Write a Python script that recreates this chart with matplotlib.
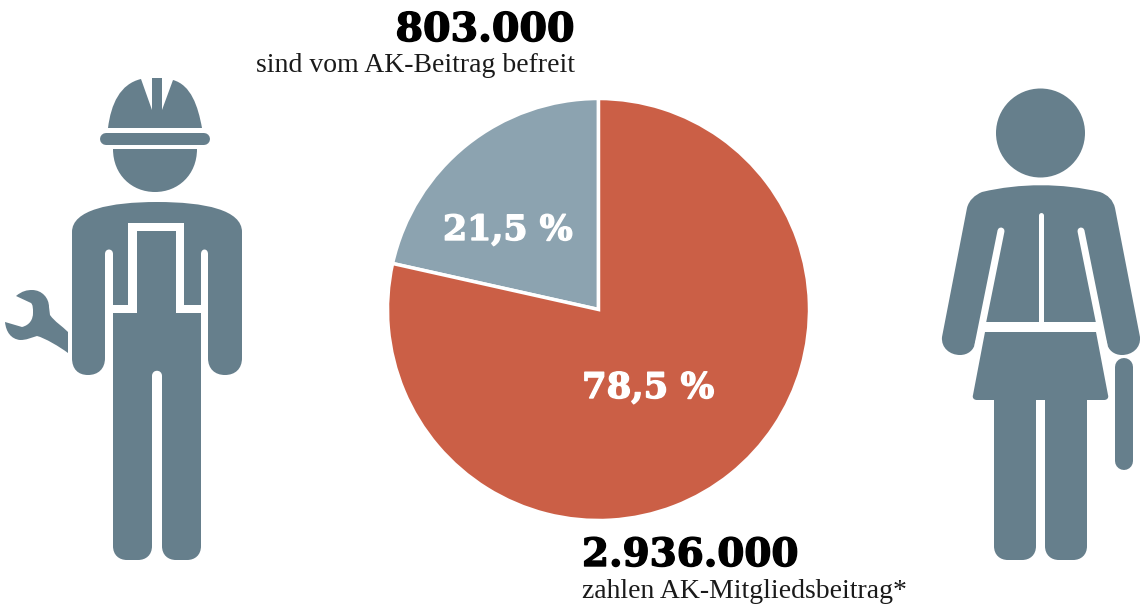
import matplotlib
matplotlib.use("Agg")
import matplotlib.pyplot as plt
import matplotlib.patheffects as pe
from matplotlib.patches import PathPatch, Circle, Polygon
from matplotlib.path import Path

W, H = 1140, 606

shares = [21.5, 78.5]
share_labels = ["21,5 %", "78,5 %"]
counts = ["803.000", "2.936.000"]
captions = ["sind vom AK-Beitrag befreit", "zahlen AK-Mitgliedsbeitrag*"]

ICON = "#667f8c"
PIE_COLORS = ["#8ca3b0", "#cb5f46"]
SERIF = ["Liberation Serif", "DejaVu Serif"]
BOLD = ["DejaVu Serif", "DejaVu Sans"]


def shape(*parts):
    # M/L/C/Z mini path: ("M", x, y), ("C", x1, y1, x2, y2, x, y) ...
    verts, codes = [], []
    for p in parts:
        if p[0] == "M":
            verts.append(p[1:3]); codes.append(Path.MOVETO)
        elif p[0] == "L":
            verts.append(p[1:3]); codes.append(Path.LINETO)
        elif p[0] == "C":
            verts += [p[1:3], p[3:5], p[5:7]]; codes += [Path.CURVE4] * 3
        else:
            verts.append((0, 0)); codes.append(Path.CLOSEPOLY)
    return Path(verts, codes)


def fill(ax, *parts):
    ax.add_patch(PathPatch(shape(*parts), fc=ICON, ec="none", zorder=2))


def bar(ax, x0, y0, x1, y1, w, color=ICON):
    # width is given in pixels, the figure runs at 100 dpi
    ax.plot([x0, x1], [y0, y1], color=color, lw=w * 0.72, solid_capstyle="round", zorder=3)


fig = plt.figure(figsize=(W / 100, H / 100), dpi=100, facecolor="white")

bg = fig.add_axes([0, 0, 1, 1])
bg.set_xlim(0, W)
bg.set_ylim(H, 0)
bg.axis("off")

# worker: helmet, brim, face
fill(bg, ("M", 108, 128), ("C", 111, 104, 120, 84, 141, 79), ("L", 152, 110), ("L", 152, 78),
     ("L", 162, 78), ("L", 162, 110), ("L", 173, 80), ("C", 191, 85, 198, 106, 202, 128), ("Z",))
bar(bg, 106, 139, 204, 139, 12)
fill(bg, ("M", 113, 149), ("L", 197, 149), ("C", 197, 175, 178, 192, 155, 192),
     ("C", 132, 192, 113, 175, 113, 149), ("Z",))

# worker: body with arms and legs in one outline
fill(bg, ("M", 72, 232), ("C", 72, 210, 110, 202, 157, 202), ("C", 205, 202, 242, 210, 242, 232),
     ("L", 242, 358), ("C", 242, 369, 235, 375, 225, 375), ("C", 215, 375, 208, 369, 208, 358),
     ("L", 208, 254), ("C", 208, 248, 201, 248, 201, 254),
     ("L", 201, 546), ("C", 201, 555, 195, 560, 187, 560), ("L", 176, 560),
     ("C", 168, 560, 162, 555, 162, 546), ("L", 162, 376), ("C", 162, 369, 152, 369, 152, 376),
     ("L", 152, 546), ("C", 152, 555, 146, 560, 138, 560), ("L", 127, 560),
     ("C", 119, 560, 113, 555, 113, 546), ("L", 113, 254), ("C", 113, 248, 105, 248, 105, 254),
     ("L", 105, 358), ("C", 105, 369, 98, 375, 88, 375), ("C", 78, 375, 72, 369, 72, 358), ("Z",))

# bib of the overalls
bg.add_patch(Polygon([(113, 305), (128, 305), (128, 223), (184, 223), (184, 305), (201, 305),
                      (201, 313), (176, 313), (176, 231), (137, 231), (137, 313), (113, 313)],
                     fc="white", ec="none", zorder=3))

# wrench
fill(bg, ("M", 16, 296), ("C", 22, 291, 27, 290, 32, 290), ("C", 42, 290, 49, 298, 49, 307),
     ("L", 50, 315), ("C", 55, 322, 62, 326, 68, 332), ("L", 68, 353),
     ("C", 60, 347, 45, 338, 37, 336), ("C", 30, 338, 27, 340, 20, 340),
     ("C", 11, 339, 6, 332, 5, 322), ("L", 22, 327), ("C", 30, 325, 33, 319, 33, 313),
     ("C", 33, 308, 33, 305, 31, 303), ("Z",))

# woman: head, torso with arms, skirt, legs
bg.add_patch(Circle((1040.5, 133), 44.5, fc=ICON, ec="none", zorder=2))
fill(bg, ("M", 982, 192), ("C", 1020, 183, 1062, 183, 1100, 192), ("C", 1108, 195, 1113, 200, 1115, 208),
     ("L", 1140, 337), ("C", 1141, 348, 1132, 355, 1122, 355), ("C", 1114, 355, 1108, 350, 1107, 343),
     ("L", 1100, 322), ("L", 982, 322), ("L", 975, 343), ("C", 974, 350, 968, 355, 960, 355),
     ("C", 950, 355, 941, 348, 942, 337), ("L", 967, 208), ("C", 969, 200, 975, 195, 982, 192), ("Z",))
fill(bg, ("M", 985, 332), ("L", 1096, 332), ("L", 1108, 395), ("C", 1109, 398, 1107, 400, 1104, 400),
     ("L", 977, 400), ("C", 974, 400, 972, 398, 973, 395), ("Z",))
for x0, x1 in [(994, 1036), (1045, 1087)]:
    fill(bg, ("M", x0, 398), ("L", x1, 398), ("L", x1, 546), ("C", x1, 555, x1 - 6, 560, x1 - 14, 560),
         ("L", x0 + 14, 560), ("C", x0 + 6, 560, x0, 555, x0, 546), ("Z",))

# slits in the dress
bar(bg, 1001, 231, 978, 345, 7, "white")
bar(bg, 1081, 231, 1104, 345, 7, "white")
bar(bg, 1040.5, 215, 1040.5, 324, 5, "white")

# thing she carries
bar(bg, 1124, 367, 1124, 461, 18)

# pie
ax = fig.add_axes([387.5 / W, (H - 520.5) / H, 422 / W, 422 / H])
wedges, _ = ax.pie(shares, colors=PIE_COLORS, startangle=90, counterclock=True, radius=1,
                   wedgeprops=dict(edgecolor="white", linewidth=2.5))
ax.set_xlim(-1, 1)
ax.set_ylim(-1, 1)
for w in wedges:
    w.set_clip_on(False)


def heavy(t, color, width=1.0):
    # the bold serif is a little thin, thicken it with an outline
    t.set_path_effects([pe.withStroke(linewidth=width, foreground=color)])
    return t


def label(x, y, s, size, ha="left", color="#1a1a1a", family=SERIF, weight="normal"):
    return bg.text(x, y, s, fontsize=size, ha=ha, va="baseline", color=color, family=family,
                   weight=weight, zorder=6)


heavy(label(575, 41, counts[0], 28.5, ha="right", color="black", family=BOLD, weight="bold"), "black")
label(575, 72, captions[0], 20, ha="right")
heavy(label(582, 566, counts[1], 28, color="black", family=BOLD, weight="bold"), "black")
label(582, 598, captions[1], 20)

# the pie axes sit above bg, so these labels go on the figure itself
heavy(fig.text(443 / W, 1 - 240 / H, share_labels[0], fontsize=25, color="white", family=BOLD,
               weight="bold", zorder=7), "white")
heavy(fig.text(582 / W, 1 - 398 / H, share_labels[1], fontsize=25.5, color="white", family=BOLD,
               weight="bold", zorder=7), "white")

fig.savefig("out.png", dpi=100, facecolor="white")
